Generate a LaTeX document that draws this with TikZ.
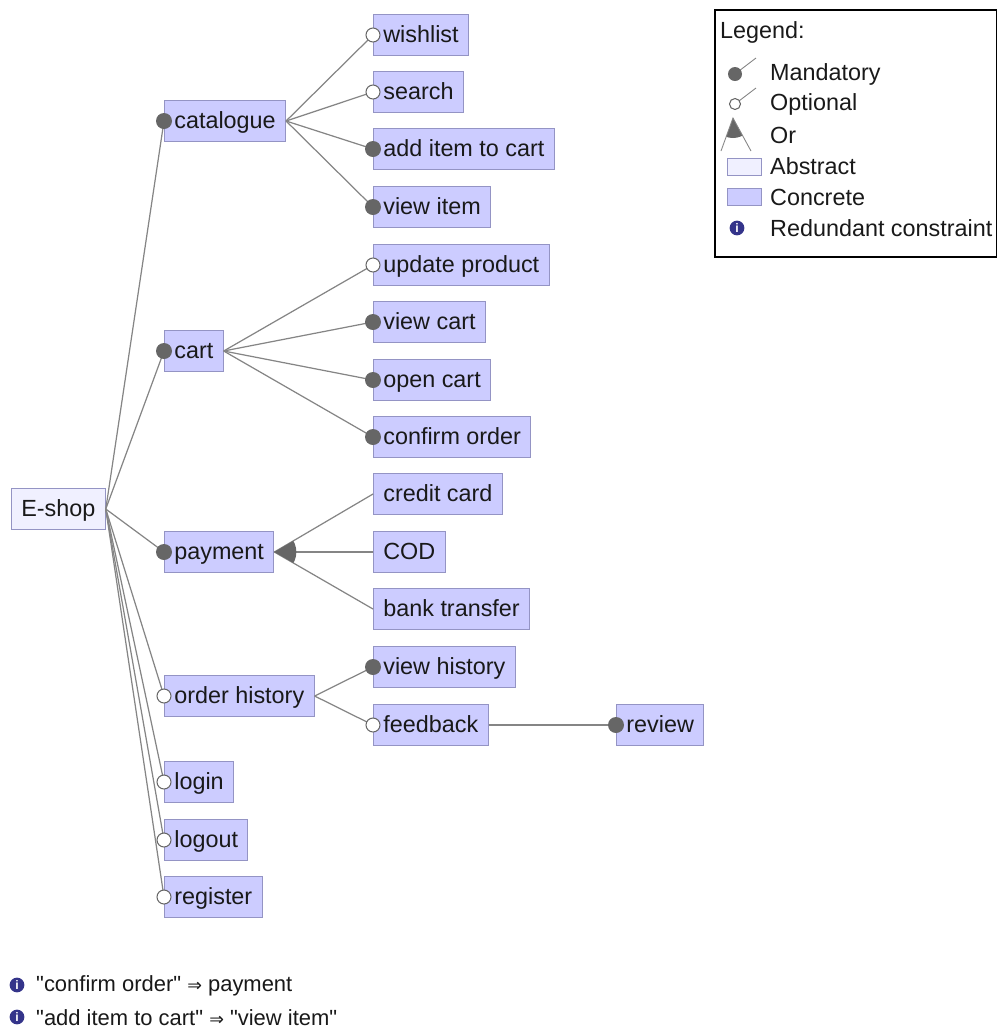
\documentclass[tikz,border=0pt]{standalone}
\usepackage{fontspec}
\setmainfont{Liberation Sans}
\newfontfamily\arrowfont{DejaVu Sans}
\definecolor{concrete}{HTML}{CCCCFF}
\definecolor{abstract}{HTML}{F0F0FF}
\definecolor{boxline}{HTML}{9494C4}
\definecolor{edgegray}{HTML}{858585}
\definecolor{dotgray}{HTML}{666666}
\definecolor{infoblue}{HTML}{34348A}
\begin{document}
\begin{tikzpicture}[x=0.02cm, y=-0.02cm,
    feature/.style={draw=boxline, fill=concrete, anchor=west, line width=0.6pt,
        inner xsep=5.6pt, inner ysep=5.8pt, text height=10.2pt, text depth=2pt,
        font=\fontsize{13.3}{15}\selectfont, text=black!90},
    abstractf/.style={feature, fill=abstract},
    edge/.style={draw=edgegray, line width=0.7pt},
    mand/.style={fill=dotgray},
    opt/.style={draw=dotgray, fill=white, line width=0.6pt},
    legtext/.style={anchor=west, font=\fontsize{13.3}{15}\selectfont, text=black!90},
    info/.style={circle, fill=infoblue, inner sep=0pt, minimum size=8.4pt,
        text=white, font=\fontsize{7}{7}\selectfont\bfseries}]
    \useasboundingbox (0,0) rectangle (998,1036);

    % Root
    \node[abstractf] (eshop) at (11,509) {E-shop};

    % Level 1
    \node[feature] (cat)    at (164,121) {catalogue};
    \node[feature] (cart)   at (164,351) {cart};
    \node[feature] (pay)    at (164,552) {payment};
    \node[feature] (hist)   at (164,696) {order history};
    \node[feature] (login)  at (164,782) {login};
    \node[feature] (logout) at (164,840) {logout};
    \node[feature] (reg)    at (164,897) {register};

    % catalogue
    \node[feature] (wish)   at (373,35)  {wishlist};
    \node[feature] (search) at (373,92)  {search};
    \node[feature] (additem) at (373,149) {add item to cart};
    \node[feature] (viewitem) at (373,207) {view item};

    % cart
    \node[feature] (update)  at (373,265) {update product};
    \node[feature] (viewcart) at (373,322) {view cart};
    \node[feature] (opencart) at (373,380) {open cart};
    \node[feature] (confirm) at (373,437) {confirm order};

    % payment
    \node[feature] (credit) at (373,494) {credit card};
    \node[feature] (cod)    at (373,552) {COD};
    \node[feature] (bank)   at (373,609) {bank transfer};

    % order history
    \node[feature] (viewhist) at (373,667) {view history};
    \node[feature] (feedback) at (373,725) {feedback};
    \node[feature] (review)   at (616,725) {review};

    % Edges
    \foreach \c in {cat,cart,pay,hist,login,logout,reg}
        \draw[edge] (eshop.east) -- (\c.west);
    \foreach \c in {wish,search,additem,viewitem}
        \draw[edge] (cat.east) -- (\c.west);
    \foreach \c in {update,viewcart,opencart,confirm}
        \draw[edge] (cart.east) -- (\c.west);
    \foreach \c in {credit,cod,bank}
        \draw[edge] (pay.east) -- (\c.west);
    \foreach \c in {viewhist,feedback}
        \draw[edge] (hist.east) -- (\c.west);
    \draw[edge] (feedback.east) -- (review.west);

    % Or group
    \begin{scope}
        \clip (pay.east) circle (22);
        \fill[dotgray] (pay.east) -- (credit.west) -- (bank.west) -- cycle;
    \end{scope}

    % Mandatory / optional ends
    \foreach \c in {cat,cart,pay,additem,viewitem,viewcart,opencart,confirm,viewhist,review}
        \fill[mand] (\c.west) circle (8);
    \foreach \c in {hist,login,logout,reg,wish,search,update,feedback}
        \filldraw[opt] (\c.west) circle (7);

    % Legend
    \draw[line width=0.8pt] (715,10) rectangle (996.5,257);
    \node[legtext] (legtitle) at (714,32) {Legend:};
    \coordinate (mdot) at (735,74);
    \draw[edge, line width=0.5pt] (mdot) -- (756,58);
    \fill[mand] (mdot) circle (7);
    \node[legtext] (lmand) at (764,74) {Mandatory};
    \coordinate (odot) at (735,104);
    \draw[edge, line width=0.5pt] (odot) -- (756,88);
    \filldraw[opt] (odot) circle (5.5);
    \node[legtext] (lopt) at (764,104) {Optional};
    \coordinate (ortop) at (733,118);
    \begin{scope}
        \clip (ortop) circle (20);
        \fill[dotgray] (ortop) -- (721,151) -- (751,151) -- cycle;
    \end{scope}
    \draw[edge, line width=0.5pt] (721,151) -- (ortop) -- (751,151);
    \node[legtext] (lor) at (764,135) {Or};
    \draw[draw=boxline, fill=abstract] (727,158) rectangle (761,175);
    \node[legtext] (labs) at (764,166) {Abstract};
    \draw[draw=boxline, fill=concrete] (727,188) rectangle (761,205);
    \node[legtext] (lcon) at (764,197) {Concrete};
    \node[info] (infoleg) at (737,228) {i};
    \node[legtext] (lred) at (764,228) {Redundant constraint};

    % Redundant constraints
    \node[info] (info1) at (17,985) {i};
    \node[legtext, font=\fontsize{12.5}{15}\selectfont] (cons1) at (30,986)
        {\textquotedbl confirm order\textquotedbl\ {\arrowfont\fontsize{10}{12}\selectfont ⇒} payment};
    \node[info] (info2) at (17,1017) {i};
    \node[legtext, font=\fontsize{12.5}{15}\selectfont] (cons2) at (30,1018)
        {\textquotedbl add item to cart\textquotedbl\ {\arrowfont\fontsize{10}{12}\selectfont ⇒} \textquotedbl view item\textquotedbl};
\end{tikzpicture}
\end{document}
